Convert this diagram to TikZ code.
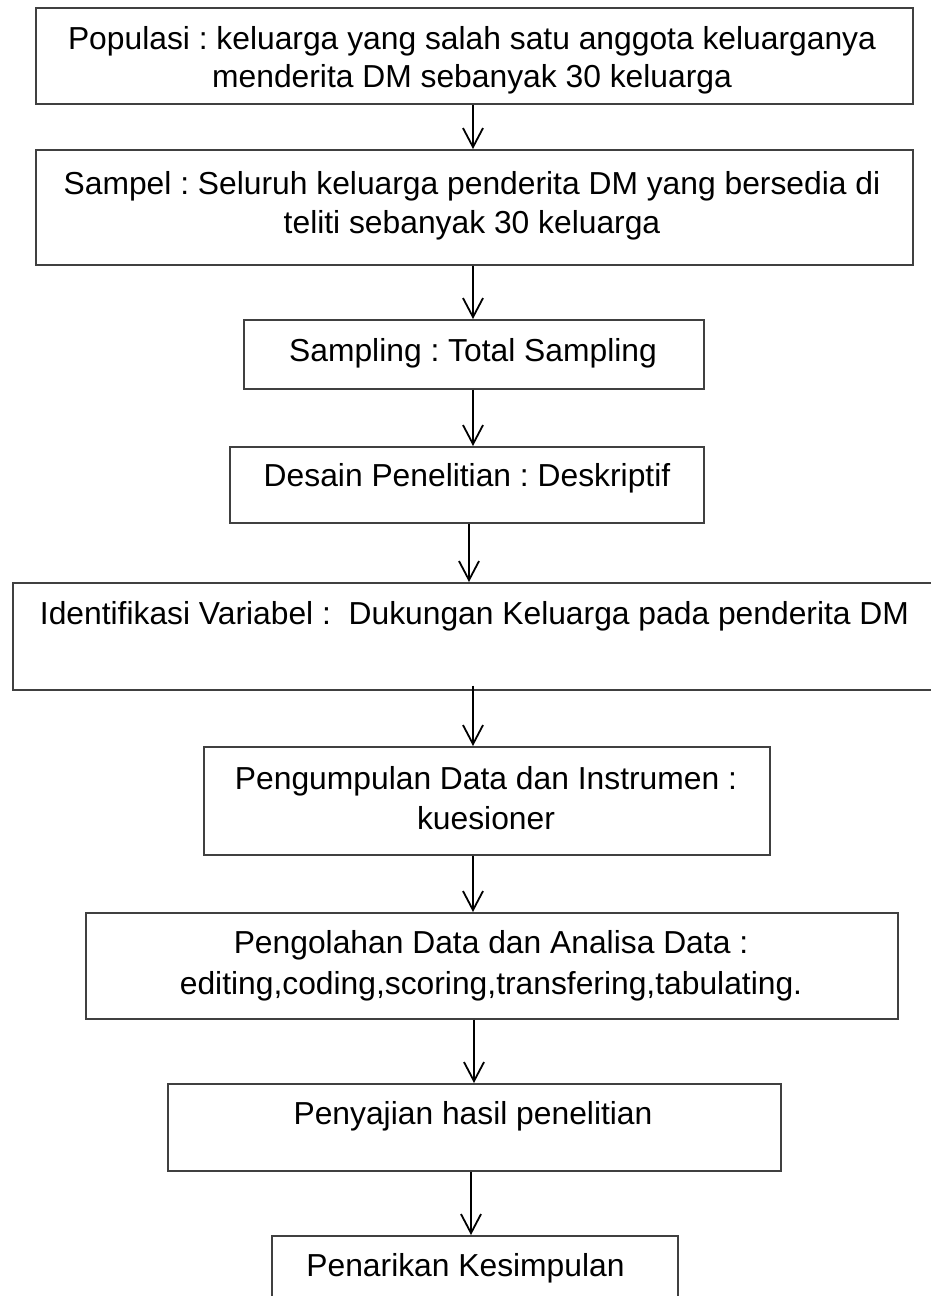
\documentclass[tikz,border=0pt]{standalone}
\usepackage{fontspec}
\setmainfont{Liberation Sans}
\usetikzlibrary{arrows.meta}
\definecolor{boxline}{RGB}{64,64,64}
\frenchspacing
\tikzset{
  box/.style={draw=boxline, line width=1.5pt, rectangle, inner sep=0pt, anchor=north west},
  txt/.style={inner sep=0pt, anchor=north, align=center},
  arr/.style={draw=black, line width=1.8pt, -{Straight Barb[length=19pt,width=20pt]}}
}
\newcommand{\fs}[1]{\fontsize{31.8}{#1}\selectfont}
\begin{document}
\begin{tikzpicture}[x=1pt,y=-1pt]
\useasboundingbox (0,0) rectangle (931,1296);
\clip (0,0) rectangle (931,1296);
\fill[white] (0,0) rectangle (931,1296);
% boxes
\node[box, minimum width=877pt, minimum height=96pt]  (b1) at (35,7) {};
\node[box, minimum width=877pt, minimum height=115pt] (b2) at (35,149) {};
\node[box, minimum width=460pt, minimum height=69pt]  (b3) at (243,319) {};
\node[box, minimum width=474pt, minimum height=76pt]  (b4) at (229,446) {};
\node[box, minimum width=940pt, minimum height=107pt] (b5) at (12,582) {};
\node[box, minimum width=566pt, minimum height=108pt] (b6) at (203,746) {};
\node[box, minimum width=812pt, minimum height=106pt] (b7) at (85,912) {};
\node[box, minimum width=613pt, minimum height=87pt]  (b8) at (167,1083) {};
\node[box, minimum width=406pt, minimum height=90pt]  (b9) at (271,1235) {};
% texts
\node[txt, font=\fs{38}] (t1) at (472,22.4) {\strut Populasi : keluarga yang salah satu anggota keluarganya\\\strut menderita DM sebanyak 30 keluarga};
\node[txt, font=\fs{39}] (t2) at (472,167.2) {\strut Sampel : Seluruh keluarga penderita DM yang bersedia di\\\strut teliti sebanyak 30 keluarga};
\node[txt, font=\fs{39.5}] (t3) at (473,333.85) {\strut Sampling : Total Sampling};
\node[txt, font=\fs{39.5}] (t4) at (467,458.85) {\strut Desain Penelitian : Deskriptif};
\node[txt, font=\fs{39.5}] (t5) at (474.5,596.85) {\strut Identifikasi Variabel :~ Dukungan Keluarga pada penderita DM};
\node[txt, font=\fs{40}] (t6) at (486,761.5) {\strut Pengumpulan Data dan Instrumen :\\\strut kuesioner};
\node[txt, font=\fs{41}] (t7) at (491,924.8) {\strut Pengolahan Data dan Analisa Data :\\\strut editing,coding,scoring,transfering,tabulating.};
\node[txt, font=\fs{39.5}] (t8) at (473,1096.85) {\strut Penyajian hasil penelitian};
\node[txt, font=\fs{39.5}] (t9) at (465.5,1248.35) {\strut Penarikan Kesimpulan};
% arrows
\draw[arr] (b1.south -| 473,0) -- (b2.north -| 473,0);
\draw[arr] (b2.south -| 473,0) -- (b3.north -| 473,0);
\draw[arr] (b3.south -| 473,0) -- (b4.north -| 473,0);
\draw[arr] (b4.south -| 469,0) -- (b5.north -| 469,0);
\draw[arr] ([yshift=5pt]b5.south -| 473,0) -- (b6.north -| 473,0);
\draw[arr] (b6.south -| 473,0) -- (b7.north -| 473,0);
\draw[arr] (b7.south -| 474,0) -- (b8.north -| 474,0);
\draw[arr] (b8.south -| 471,0) -- (b9.north -| 471,0);
\end{tikzpicture}
\end{document}
